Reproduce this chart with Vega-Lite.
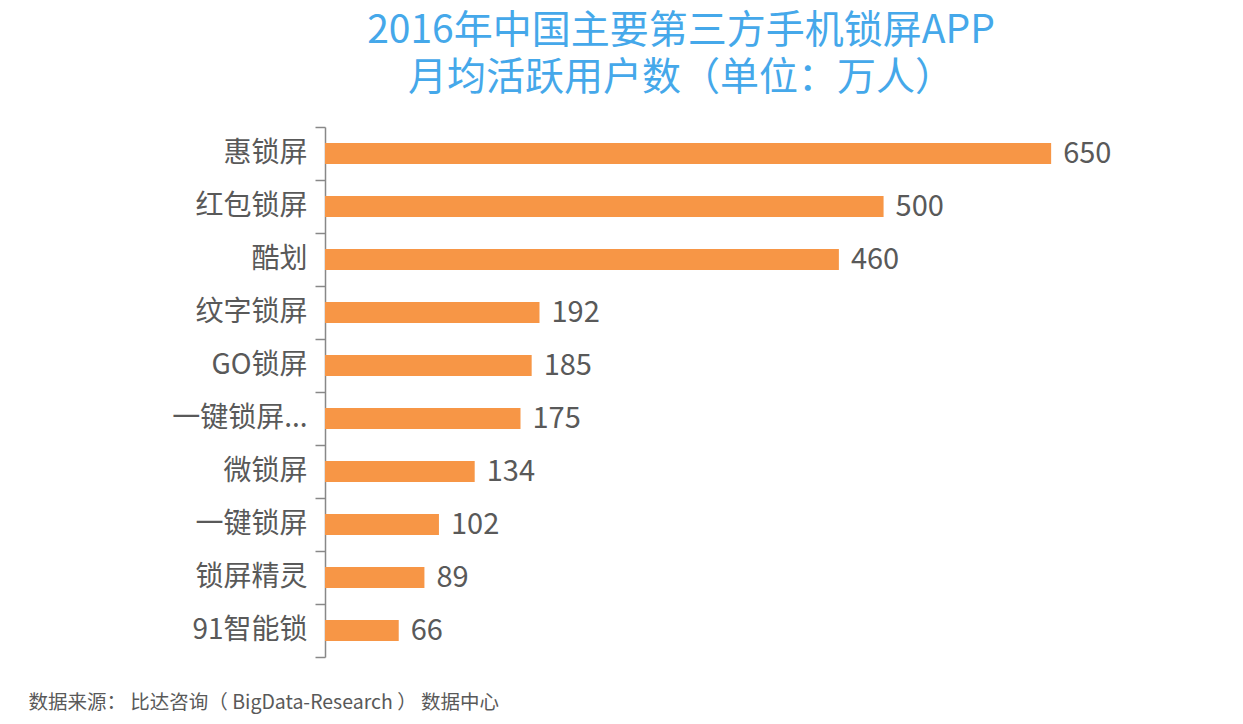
{
  "$schema": "https://vega.github.io/schema/vega-lite/v6.json",
  "autosize": "none",
  "width": 782,
  "height": 530,
  "padding": {"left": 325, "top": 127, "right": 136, "bottom": 67},
  "background": "white",
  "config": {"view": {"stroke": null}, "font": "Noto Sans CJK SC"},
  "title": {
    "text": ["2016年中国主要第三方手机锁屏APP", "月均活跃用户数（单位：万人）"],
    "font": "Noto Sans CJK SC",
    "fontSize": 39,
    "fontWeight": "normal",
    "color": "#45A8EA",
    "lineHeight": 47,
    "anchor": "middle",
    "dx": -35,
    "offset": 15
  },
  "data": {
    "values": [
      {"app": "惠锁屏", "users": 650},
      {"app": "红包锁屏", "users": 500},
      {"app": "酷划", "users": 460},
      {"app": "纹字锁屏", "users": 192},
      {"app": "GO锁屏", "users": 185},
      {"app": "一键锁屏...", "users": 175},
      {"app": "微锁屏", "users": 134},
      {"app": "一键锁屏", "users": 102},
      {"app": "锁屏精灵", "users": 89},
      {"app": "91智能锁", "users": 66}
    ]
  },
  "encoding": {
    "y": {
      "field": "app",
      "type": "nominal",
      "sort": null,
      "scale": {"paddingInner": 0, "paddingOuter": 0},
      "axis": {
        "title": null,
        "bandPosition": 1,
        "tickExtra": true,
        "domainColor": "#888888",
        "domainWidth": 1.5,
        "tickColor": "#888888",
        "tickWidth": 1.5,
        "tickSize": 10,
        "labelPadding": 8,
        "labelFont": "Noto Sans CJK SC",
        "labelFontSize": 28,
        "labelColor": "#595959",
        "labelLimit": 300
      }
    },
    "x": {
      "field": "users",
      "type": "quantitative",
      "scale": {"domain": [0, 700], "nice": false},
      "axis": {
        "domain": false,
        "labels": false,
        "ticks": false,
        "grid": false,
        "title": "数据来源： 比达咨询（ BigData-Research ） 数据中心",
        "titleFont": "Noto Sans CJK SC",
        "titleFontSize": 19.5,
        "titleFontWeight": "normal",
        "titleColor": "#595959",
        "titleAnchor": "start",
        "titleAlign": "left",
        "titleBaseline": "middle",
        "titleX": -297,
        "titleY": 45
      }
    }
  },
  "layer": [
    {
      "mark": {"type": "bar", "color": "#F79646", "height": {"band": 0.4}}
    },
    {
      "mark": {
        "type": "text",
        "align": "left",
        "baseline": "middle",
        "dx": 12,
        "font": "Noto Sans CJK SC",
        "fontSize": 29,
        "color": "#595959"
      },
      "encoding": {"text": {"field": "users", "type": "quantitative"}}
    }
  ]
}
